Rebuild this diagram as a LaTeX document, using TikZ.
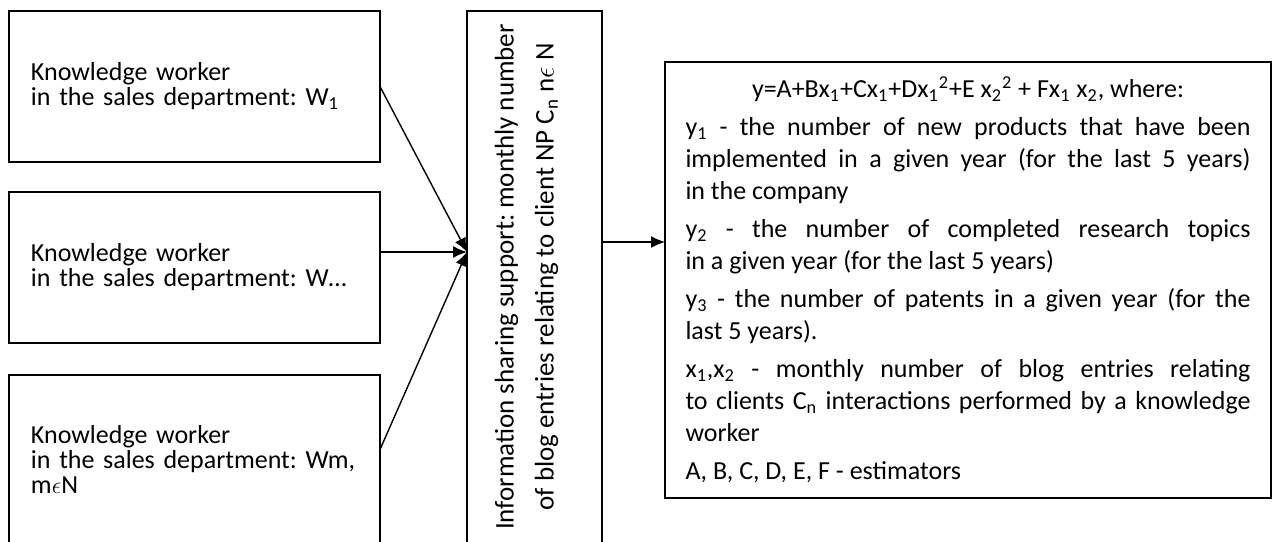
\documentclass[tikz,border=0pt]{standalone}
\usepackage{fontspec}
\setmainfont{Carlito}
\usetikzlibrary{positioning}
\usetikzlibrary{arrows.meta}
\def\subs#1{\textsubscript{#1}}
\def\sups#1{\textsuperscript{#1}}
\frenchspacing

\begin{document}
\begin{tikzpicture}[>={Latex[length=7pt,width=6pt]},x=0.5pt,y=0.5pt,line width=0.7pt,
	worker/.style={minimum width=185.5pt,minimum height=75.5pt,text width=163.5pt,inner xsep=11pt,align=left,outer sep=0pt,draw=black,font=\fontsize{13}{12.5}\selectfont},
	result/.style={minimum width=303pt,minimum height=218pt,text width=282.5pt,inner xsep=10.25pt,align=justify,outer sep=0pt,draw=black,font=\fontsize{13}{16}\selectfont}]
	\useasboundingbox (0,0) rectangle (1273,-541);

	\node [worker,anchor=north west] at (9,-11) (w1) {Knowledge worker\\in the sales department: W\subs{1}};
	\node [worker,below=15pt of w1] (w2) {Knowledge worker\\in the sales department: W\dots};
	\node [worker,below=16pt of w2,minimum height=84.5pt] (w3) {Knowledge worker\\in the sales department: Wm,\\m$\epsilon$N};

	\node [minimum width=67.5pt,minimum height=266pt,outer sep=0pt,draw=black,anchor=north west] at ([xshift=43.5pt]w1.north east) (info) {};
	\node [rotate=90,align=center,font=\fontsize{13.5}{20}\selectfont] at ([xshift=-4pt]info.center) (info_txt) {Information sharing support: monthly number\\of blog entries relating to client NP C\subs{n} n$\epsilon$ N};

	\node [result,anchor=north west] at ([xshift=31.5pt,yshift=-25.5pt]info.north east) (res) {\parindent=0pt\parskip=3pt\hyphenpenalty=10000
		\hfil y=A+Bx\subs{1}+Cx\subs{1}+Dx\subs{1}\sups{2}+E x\subs{2}\sups{2} + Fx\subs{1} x\subs{2}, where:\par
		y\subs{1} - the number of new products that have been\linebreak implemented in a given year (for the last 5 years)\linebreak in the company\par
		y\subs{2} - the number of completed research topics\linebreak in a given year (for the last 5 years)\par
		y\subs{3} - the number of patents in a given year (for the\linebreak last 5 years).\par
		x\subs{1},x\subs{2} - monthly number of blog entries relating\linebreak to clients C\subs{n} interactions performed by a knowledge\linebreak worker\par
		A, B, C, D, E, F - estimators};

	\coordinate (hub) at ([yshift=12.5pt]info.west);
	\coordinate (entry) at ([yshift=19pt]res.west);
	\draw [->] (w1.east) -- (hub);
	\draw [->] (w2.east |- hub) -- (hub);
	\draw [->] ([yshift=5pt]w3.east) -- (hub);
	\draw [->] (info.east |- entry) -- (entry);
\end{tikzpicture}
\end{document}
